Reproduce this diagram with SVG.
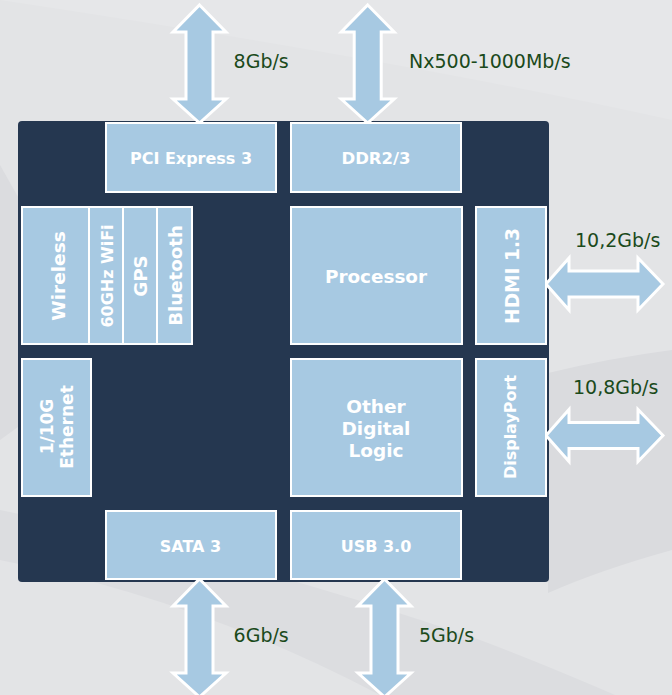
<svg xmlns="http://www.w3.org/2000/svg" width="672" height="695" viewBox="0 0 672 695">
<style>
.box{fill:#a7c9e2;stroke:#ffffff;stroke-width:2}
.arr{fill:#a7c9e2;stroke:#ffffff;stroke-width:3;stroke-linejoin:miter}
.bl{font-family:"DejaVu Sans",Verdana,sans-serif;font-weight:bold;fill:#ffffff;text-anchor:middle}
.lab{font-family:"DejaVu Sans",Verdana,sans-serif;font-size:19px;fill:#1b4a1b}
</style>
<defs>
<polygon id="varr" points="0,0 26.5,27 13.5,27 13.5,94 26.5,94 0,118 -26.5,94 -13.5,94 -13.5,27 -26.5,27"/>
<polygon id="harr" points="0,0 23,-26 23,-13 92,-13 92,-26 117,0 92,26 92,13 23,13 23,26"/>
</defs>
<g id="background">
<rect x="0" y="0" width="672" height="695" fill="#e3e4e6"/>
<path d="M0,0 L672,0 L672,120 Q400,60 0,0 Z" fill="#e6e7e9"/>
<path d="M0,165 L110,360 L0,440 Z" fill="#dbdcdf"/>
<path d="M548,373 Q610,358 672,350 L672,550 Q600,570 548,593 Z" fill="#dadbde"/>
<path d="M0,510 Q250,560 480,640 Q560,670 672,720 L672,695 L0,695 Z" fill="#dcdde0"/>
<path d="M0,560 Q200,600 380,695 L0,695 Z" fill="#e3e4e6"/>
</g>
<g id="panel">
<rect x="18" y="121" width="531" height="461" rx="4" fill="#253750"/>
</g>
<g id="connectors">
<use href="#varr" class="arr" x="199.5" y="5"/>
<use href="#varr" class="arr" x="367.7" y="5"/>
<use href="#varr" class="arr" x="199.5" y="579"/>
<use href="#varr" class="arr" x="384.5" y="579"/>
<use href="#harr" class="arr" x="546" y="284"/>
<use href="#harr" class="arr" x="546" y="435.5"/>
</g>
<g id="pci"><rect class="box" x="106" y="123" width="170" height="69"/><text class="bl" x="191" y="164.3" font-size="16">PCI Express 3</text></g>
<g id="ddr"><rect class="box" x="291" y="123" width="170" height="69"/><text class="bl" x="376" y="164.3" font-size="16.5">DDR2/3</text></g>
<g id="wireless"><rect class="box" x="22" y="207" width="67" height="137"/><text class="bl" font-size="18.5" transform="translate(64.5,276) rotate(-90)">Wireless</text></g>
<g id="wifi"><rect class="box" x="89" y="207" width="34" height="137"/><text class="bl" font-size="16" transform="translate(112.5,276) rotate(-90)">60GHz WiFi</text></g>
<g id="gps"><rect class="box" x="123" y="207" width="34" height="137"/><text class="bl" font-size="18.3" transform="translate(147,276) rotate(-90)">GPS</text></g>
<g id="bluetooth"><rect class="box" x="157" y="207" width="35" height="137"/><text class="bl" font-size="18.2" transform="translate(182,275.5) rotate(-90)">Bluetooth</text></g>
<g id="processor"><rect class="box" x="291" y="207" width="171" height="137"/><text class="bl" x="376" y="282.7" font-size="18.4">Processor</text></g>
<g id="hdmi"><rect class="box" x="476" y="207" width="70" height="137"/><text class="bl" font-size="18.6" transform="translate(518.5,276) rotate(-90)">HDMI 1.3</text></g>
<g id="ethernet"><rect class="box" x="22" y="359" width="69" height="137"/><text class="bl" font-size="17" transform="translate(53,426.5) rotate(-90)">1/10G</text><text class="bl" font-size="17" transform="translate(72.5,427) rotate(-90)">Ethernet</text></g>
<g id="other"><rect class="box" x="291" y="359" width="171" height="137"/><text class="bl" x="376" y="413" font-size="18.5">Other</text><text class="bl" x="376" y="435" font-size="18.5">Digital</text><text class="bl" x="376" y="456.7" font-size="18.5">Logic</text></g>
<g id="displayport"><rect class="box" x="476" y="359" width="70" height="137"/><text class="bl" font-size="16" transform="translate(515.5,427) rotate(-90)">DisplayPort</text></g>
<g id="sata"><rect class="box" x="106" y="511" width="170" height="68"/><text class="bl" x="190.5" y="551.7" font-size="16">SATA 3</text></g>
<g id="usb"><rect class="box" x="291" y="511" width="170" height="68"/><text class="bl" x="376" y="551.7" font-size="16">USB 3.0</text></g>
<g id="labels">
<text class="lab" x="233.6" y="68">8Gb/s</text>
<text class="lab" x="409" y="68">Nx500-1000Mb/s</text>
<text class="lab" x="575" y="246.7">10,2Gb/s</text>
<text class="lab" x="573" y="394">10,8Gb/s</text>
<text class="lab" x="233.6" y="641.7">6Gb/s</text>
<text class="lab" x="419" y="642">5Gb/s</text>
</g>
</svg>
